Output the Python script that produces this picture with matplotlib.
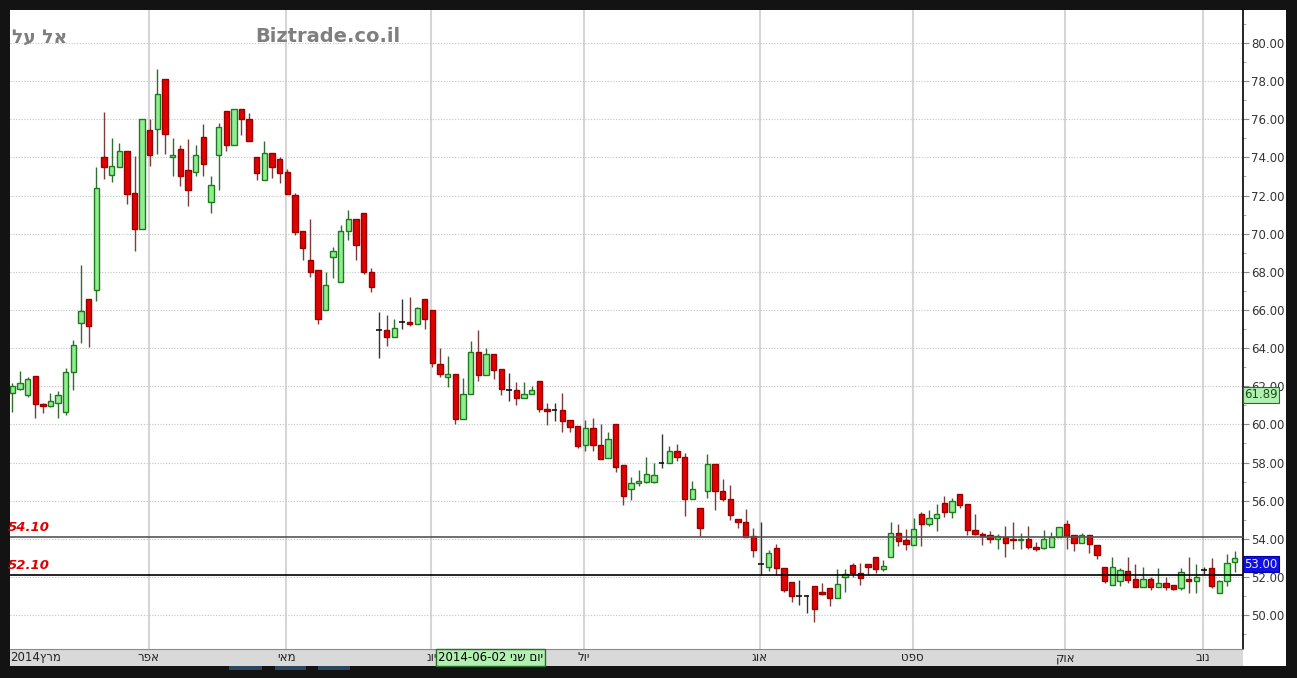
import matplotlib
matplotlib.use("Agg")
import matplotlib.pyplot as plt
import numpy as np
from matplotlib.patches import Rectangle
from matplotlib.ticker import MultipleLocator, FormatStrFormatter

# daily candles (O, H, L, C)
opens = [61.66, 61.86, 61.54, 62.55, 61.07, 60.98, 61.14, 60.67, 62.76, 65.33,
         66.57, 67.04, 74.00, 73.06, 73.50, 74.32, 72.12, 70.22, 75.42, 75.50,
         78.12, 74.02, 74.46, 73.36, 73.24, 75.07, 71.66, 74.11, 76.43, 74.63,
         76.52, 76.03, 74.00, 72.83, 74.21, 73.93, 73.24, 72.05, 70.13, 68.61,
         68.07, 65.99, 68.78, 67.47, 70.16, 70.79, 71.08, 67.99, 64.97, 64.97,
         64.57, 65.36, 65.38, 65.27, 66.58, 66.00, 63.18, 62.50, 62.62, 60.30,
         61.57, 63.79, 62.58, 63.70, 62.91, 61.78, 61.78, 61.36, 61.57, 62.30,
         60.82, 60.73, 60.73, 60.21, 59.91, 58.90, 59.79, 58.90, 58.25, 60.00,
         57.85, 56.60, 56.91, 56.98, 57.00, 57.99, 57.99, 58.60, 58.31, 56.07,
         55.64, 56.51, 57.91, 56.51, 56.07, 55.03, 54.90, 54.12, 52.70, 52.50,
         53.53, 52.46, 51.71, 51.01, 51.01, 51.54, 51.22, 51.40, 50.89, 52.02,
         52.62, 52.20, 52.70, 53.02, 52.44, 53.02, 54.28, 53.94, 53.66, 55.32,
         54.80, 55.11, 55.90, 55.39, 56.35, 55.81, 54.46, 54.25, 54.20, 53.99,
         54.08, 53.99, 53.91, 53.98, 53.56, 53.50, 53.59, 54.08, 54.78, 54.20,
         53.80, 54.20, 53.68, 52.51, 51.58, 51.79, 52.32, 51.88, 51.46, 51.88,
         51.46, 51.67, 51.58, 51.41, 51.90, 51.76, 52.34, 52.49, 51.15, 51.76,
         52.77]
highs = [62.15, 62.80, 62.50, 62.55, 61.10, 61.67, 61.77, 62.94, 64.42, 68.38,
         66.57, 73.50, 76.38, 75.02, 74.77, 74.32, 74.06, 76.01, 76.03, 78.65,
         78.12, 75.02, 74.63, 74.98, 74.67, 75.73, 73.03, 75.82, 76.43, 76.52,
         76.52, 76.32, 74.00, 74.86, 74.21, 74.02, 73.41, 72.14, 70.13, 70.76,
         68.07, 67.98, 69.28, 70.47, 71.26, 70.79, 71.08, 68.20, 65.90, 65.76,
         65.50, 66.58, 66.68, 66.16, 66.58, 66.00, 64.01, 63.61, 62.62, 62.44,
         64.36, 64.97, 64.01, 63.70, 62.91, 62.67, 62.22, 62.22, 62.00, 62.30,
         61.10, 61.13, 61.62, 60.21, 59.91, 60.23, 60.31, 60.00, 59.60, 60.00,
         57.85, 57.26, 57.59, 58.31, 57.99, 59.48, 58.87, 58.99, 58.52, 57.03,
         55.64, 58.43, 57.91, 57.12, 56.82, 55.03, 55.58, 54.59, 54.89, 53.42,
         53.72, 52.46, 51.71, 51.83, 51.05, 51.54, 51.68, 51.40, 52.41, 52.41,
         52.72, 52.72, 52.70, 53.02, 52.90, 54.90, 54.80, 54.50, 55.11, 55.43,
         55.50, 55.81, 56.26, 56.12, 56.35, 55.81, 55.30, 54.38, 54.43, 54.24,
         54.67, 54.87, 54.29, 54.67, 53.85, 54.46, 54.34, 54.64, 54.99, 54.20,
         54.29, 54.20, 53.68, 52.51, 53.07, 52.46, 53.07, 52.67, 52.54, 52.02,
         52.46, 52.02, 51.58, 52.46, 53.07, 52.67, 52.51, 52.98, 51.85, 53.21,
         53.38]
lows = [60.67, 61.80, 61.45, 60.36, 60.58, 60.93, 60.36, 60.50, 61.80, 64.25,
        64.07, 66.46, 72.85, 72.71, 73.50, 71.54, 69.08, 70.22, 73.53, 74.20,
        74.20, 73.03, 72.50, 71.44, 73.03, 73.03, 71.11, 72.31, 74.32, 74.63,
        75.16, 74.84, 72.80, 72.83, 72.92, 72.68, 72.07, 69.95, 68.61, 67.74,
        65.26, 65.99, 67.68, 67.47, 69.69, 68.60, 67.91, 66.95, 63.46, 64.10,
        64.57, 65.01, 65.18, 65.27, 65.01, 63.02, 62.50, 61.97, 60.00, 60.30,
        61.57, 62.27, 62.58, 62.39, 61.52, 61.20, 60.99, 61.36, 61.57, 60.66,
        59.97, 60.17, 59.62, 59.62, 58.78, 58.60, 58.60, 58.20, 58.25, 57.52,
        55.76, 56.04, 56.77, 56.91, 56.95, 57.70, 57.99, 58.08, 55.20, 56.07,
        54.12, 56.16, 55.51, 56.00, 54.99, 54.54, 54.07, 53.07, 52.11, 52.32,
        52.11, 51.22, 50.70, 50.52, 50.10, 49.62, 51.05, 50.45, 50.89, 51.19,
        51.97, 51.59, 52.11, 52.23, 52.32, 53.02, 53.60, 53.42, 53.66, 53.60,
        54.68, 54.42, 55.16, 55.08, 55.60, 54.20, 54.20, 53.68, 53.77, 53.47,
        53.02, 53.47, 53.47, 53.47, 53.36, 53.47, 53.59, 54.08, 53.47, 53.38,
        53.77, 53.28, 52.93, 51.67, 51.58, 51.53, 51.67, 51.46, 51.46, 51.32,
        51.46, 51.32, 51.32, 51.32, 51.15, 51.15, 52.16, 51.41, 51.15, 51.50,
        52.28]
closes = [62.01, 62.15, 62.36, 61.07, 60.98, 61.20, 61.54, 62.76, 64.16, 65.96,
          65.17, 72.42, 73.50, 73.55, 74.32, 72.10, 70.22, 76.01, 74.11, 77.32,
          75.24, 74.11, 73.03, 72.28, 74.11, 73.64, 72.54, 75.59, 74.63, 76.52,
          76.03, 74.84, 73.20, 74.21, 73.50, 73.20, 72.07, 70.09, 69.26, 68.00,
          65.52, 67.30, 69.11, 70.16, 70.79, 69.39, 67.98, 67.19, 64.97, 64.57,
          65.06, 65.36, 65.27, 66.11, 65.50, 63.23, 62.65, 62.62, 60.30, 61.57,
          63.79, 62.57, 63.70, 62.84, 61.83, 61.78, 61.36, 61.61, 61.78, 60.79,
          60.70, 60.73, 60.17, 59.86, 58.87, 59.79, 58.90, 58.20, 59.25, 57.78,
          56.25, 56.91, 57.02, 57.42, 57.33, 57.99, 58.60, 58.31, 56.07, 56.61,
          54.54, 57.91, 56.51, 56.07, 55.25, 54.90, 54.07, 53.42, 52.70, 53.23,
          52.46, 51.33, 51.01, 51.01, 51.01, 50.31, 51.10, 50.89, 51.62, 52.13,
          52.20, 51.92, 52.50, 52.41, 52.55, 54.28, 53.89, 53.72, 54.50, 54.80,
          55.11, 55.32, 55.39, 56.00, 55.77, 54.46, 54.25, 54.12, 53.99, 54.12,
          53.80, 53.91, 53.99, 53.59, 53.45, 53.98, 54.08, 54.64, 54.12, 53.80,
          54.20, 53.71, 53.16, 51.76, 52.54, 52.34, 51.85, 51.46, 51.88, 51.46,
          51.67, 51.46, 51.38, 52.28, 51.81, 51.99, 52.34, 51.50, 51.76, 52.75,
          53.00]

# month starts (candle index) and labels, logical Hebrew order
month_idx = [0, 18, 36, 55, 75, 98, 118, 138, 156]
month_names = ['מרץ2014', 'אפר', 'מאי', 'יונ', 'יול', 'אוג', 'ספט', 'אוק', 'נוב']
levels = [54.10, 52.10]
level_colors = ['#555555', '#000000']
cursor_idx = 55
cursor_date = 'יום שני 2014-06-02'
cursor_price = 61.89
title = 'אל על'
site = 'Biztrade.co.il'


def vis(s):
    # matplotlib has no bidi: put runs in visual order, flip hebrew runs
    runs, cur = [], ''
    for ch in s:
        heb = '\u0590' <= ch <= '\u05ff'
        if cur and (heb != ('\u0590' <= cur[-1] <= '\u05ff')) and ch != ' ' and cur[-1] != ' ':
            runs.append(cur)
            cur = ''
        cur += ch
    runs.append(cur)
    out = []
    for run in runs[::-1]:
        for w in run.split(' ')[::-1]:
            if any('\u0590' <= ch <= '\u05ff' for ch in w):
                w = w[::-1]
            out.append(w)
    return ' '.join(out).replace('  ', ' ').strip() if ' ' in s else ''.join(out)


plt.rcParams['font.family'] = ['DejaVu Sans', 'Liberation Sans']

W, H = 1297, 678
fig = plt.figure(figsize=(W / 100, H / 100), dpi=100, facecolor='#131313')


def box(x0, y0, x1, y1):
    # pixel box (top-left origin) -> figure fraction rect
    return [x0 / W, 1 - y1 / H, (x1 - x0) / W, (y1 - y0) / H]


# right price panel, date band and the small tabs under it
r = box(1243, 10, 1286, 666)
fig.add_artist(Rectangle((r[0], r[1]), r[2], r[3], transform=fig.transFigure,
                         facecolor='white', edgecolor='none', zorder=0))
r = box(10, 649, 1243, 666)
fig.add_artist(Rectangle((r[0], r[1]), r[2], r[3], transform=fig.transFigure,
                         facecolor='#d9d9d9', edgecolor='none', zorder=0))
for x0, x1 in [(229, 262), (275, 306), (318, 350)]:
    r = box(x0, 666, x1, 670)
    fig.add_artist(Rectangle((r[0], r[1]), r[2], r[3], transform=fig.transFigure,
                             facecolor='#2c4560', edgecolor='none', zorder=0))

ax = fig.add_axes(box(10, 10, 1243, 649))
ax.set_facecolor('white')

o = np.array(opens)
h = np.array(highs)
l = np.array(lows)
c = np.array(closes)
idx = np.arange(len(c))
up = c > o
dn = c < o
dj = c == o
bw = 0.7

ax.vlines(idx[up], l[up], h[up], color='#2f6e2f', lw=1, zorder=3)
ax.bar(idx[up], (c - o)[up], bottom=o[up], width=bw, color='#8fee8f',
       edgecolor='#1f7a1f', lw=1, zorder=4)
ax.vlines(idx[dn], l[dn], h[dn], color='#7d3b3b', lw=1, zorder=3)
ax.bar(idx[dn], (o - c)[dn], bottom=c[dn], width=bw, color='#e20000',
       edgecolor='#9a0000', lw=1, zorder=4)
ax.vlines(idx[dj], l[dj], h[dj], color='#333333', lw=1, zorder=3)
ax.hlines(c[dj], idx[dj] - bw / 2, idx[dj] + bw / 2, color='#111111', lw=1.2, zorder=4)

# level lines
for lv, col in zip(levels, level_colors):
    ax.axhline(lv, color=col, lw=1.2, zorder=5)
    ax.text(-0.55, lv + 0.15, '%.2f' % lv, color='#e00000', fontsize=9.5,
            fontweight='bold', fontstyle='italic', ha='left', va='bottom', zorder=6)

ax.set_xlim(-0.3, len(c) + 0.1)
ax.set_ylim(48.22, 81.73)

ax.yaxis.set_major_locator(MultipleLocator(2))
ax.yaxis.set_minor_locator(MultipleLocator(1))
ax.yaxis.set_major_formatter(FormatStrFormatter('%.2f'))
ax.yaxis.tick_right()
ax.tick_params(axis='y', which='major', length=4, width=0.8, color='#888888',
               labelsize=8.5, labelcolor='#333333', pad=2)
ax.tick_params(axis='y', which='minor', length=2, width=0.8, color='#aaaaaa')
ax.set_xticks([])
ax.grid(axis='y', which='major', color='#c4c4c4', lw=0.8, ls=(0, (1, 1.5)), zorder=1)
for m in month_idx[1:]:
    ax.axvline(m - 0.15, color='#d6d6d6', lw=1.5, zorder=1)

for s in ['left', 'top']:
    ax.spines[s].set_visible(False)
ax.spines['bottom'].set_color('#8a8a8a')
ax.spines['right'].set_color('black')
ax.spines['right'].set_linewidth(1.2)

# month labels in the date band
xt = ax.get_xaxis_transform()
ax.text(-0.3, -0.0135, vis(month_names[0]), transform=xt, ha='left', va='center',
        fontsize=8.5, color='#222222', clip_on=False)
for m, name in zip(month_idx[1:], month_names[1:]):
    ax.text(m - 0.15, -0.0135, vis(name), transform=xt, ha='center', va='center',
            fontsize=8.5, color='#222222', clip_on=False)

# crosshair date box
ax.text(cursor_idx + 0.75, -0.0135, vis(cursor_date), transform=xt, ha='left',
        va='center', fontsize=8.5, color='black', clip_on=False, zorder=10,
        bbox=dict(boxstyle='square,pad=0.15', facecolor='#b2f0b2', edgecolor='#2b6b2b', lw=1))

# price tags on the right axis
yt = ax.get_yaxis_transform()
ax.text(1.001, cursor_price, '%.2f' % cursor_price, transform=yt, ha='left', va='top',
        fontsize=8.5, color='#1a4d1a', clip_on=False, zorder=10,
        bbox=dict(boxstyle='square,pad=0.12', facecolor='#b2f0b2', edgecolor='#2b6b2b', lw=0.8))
ax.text(1.001, c[-1], '%.2f' % c[-1], transform=yt, ha='left', va='top',
        fontsize=8.5, color='#e8e8ff', clip_on=False, zorder=10,
        bbox=dict(boxstyle='square,pad=0.12', facecolor='#1010e0', edgecolor='#0000a0', lw=0.8))

# header texts
fig.text(12 / W, 1 - 37 / H, vis(title), fontsize=13.5, fontweight='bold',
         color='#7f7f7f', ha='left', va='center')
fig.text(255 / W, 1 - 37 / H, site, fontsize=14, fontweight='bold',
         color='#7f7f7f', ha='left', va='center')

fig.savefig('out.png', dpi=100, facecolor=fig.get_facecolor())
